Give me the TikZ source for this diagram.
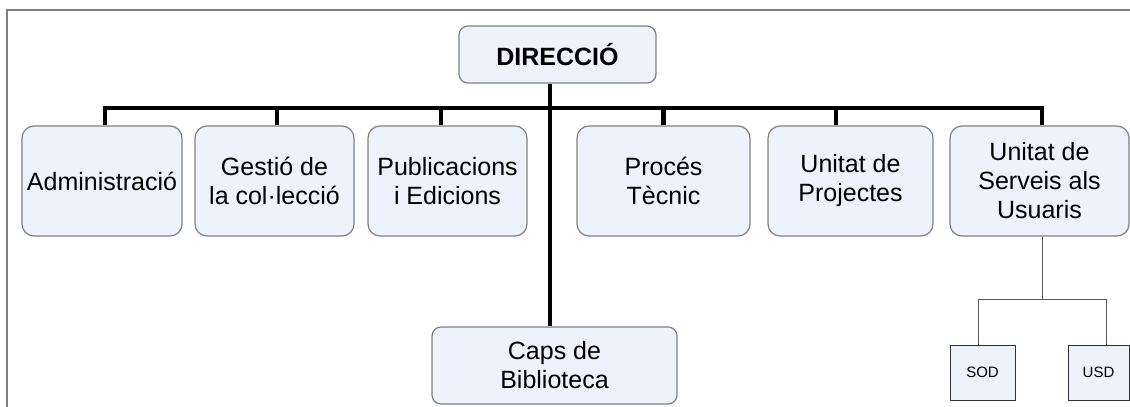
\documentclass[tikz,border=0pt]{standalone}
\usepackage{fontspec}
\setmainfont{Liberation Sans}
\begin{document}
\begin{tikzpicture}[x=1pt,y=-1pt,
  box/.style={draw=black!50, line width=1.2pt, fill=boxfill, rounded corners=12pt, inner sep=0pt, align=center, font=\fontsize{25}{29}\selectfont},
  smallbox/.style={draw=black!80, line width=0.9pt, fill=boxfill, inner sep=0pt, font=\fontsize{15}{18}\selectfont},
  bar/.style={line width=4.5pt, black},
  thin/.style={line width=1pt, black!65},
  frame/.style={line width=1.2pt, black!50}]
\definecolor{boxfill}{RGB}{238,242,253}
\useasboundingbox (0,0) rectangle (1130,407);
\draw[frame] (7,407) -- (7,10) -- (1130,10);
% nodes
\node[box, rounded corners=9pt, minimum width=197pt, minimum height=57pt, font=\fontsize{25}{29}\selectfont\bfseries] (dir) at (557.5,54.5) {DIRECCIÓ};
\node[box, minimum width=160pt, minimum height=110pt] (adm) at (102,181) {Administració};
\node[box, minimum width=159pt, minimum height=110pt] (ges) at (274.5,181) {Gestió de\\la col·lecció};
\node[box, minimum width=159pt, minimum height=110pt] (pub) at (447.5,181) {Publicacions\\i Edicions};
\node[box, minimum width=173pt, minimum height=110pt] (proc) at (663.5,181) {Procés\\Tècnic};
\node[box, minimum width=165pt, minimum height=110pt] (proj) at (850.5,181) {Unitat de\\Projectes};
\node[box, minimum width=179pt, minimum height=110pt] (serv) at (1039.5,181) {Unitat de\\Serveis als\\Usuaris};
\node[box, rounded corners=9pt, minimum width=245pt, minimum height=77pt] (caps) at (554.5,365.5) {Caps de\\Biblioteca};
\node[smallbox, minimum width=65pt, minimum height=55pt] (sod) at (982.5,372.5) {SOD};
\node[smallbox, minimum width=61pt, minimum height=55pt] (usd) at (1098.5,372.5) {USD};
% connectors
\coordinate (spine) at (550,108);
\coordinate (split) at (1042,299);
\draw[bar] (dir.south -| spine) -- (caps.north -| spine);
\draw[bar] ([xshift=3pt]adm.north) -- ([xshift=3pt]adm.north |- spine) -- ([xshift=2.5pt]serv.north |- spine) -- ([xshift=2.5pt]serv.north);
\draw[bar] ([xshift=2.5pt]ges.north) -- ([xshift=2.5pt]ges.north |- spine);
\draw[bar] ([xshift=-6.5pt]pub.north) -- ([xshift=-6.5pt]pub.north |- spine);
\draw[bar] (proc.north) -- (proc.north |- spine);
\draw[bar] ([xshift=-14.5pt]proj.north) -- ([xshift=-14.5pt]proj.north |- spine);
\draw[thin] ([xshift=2.5pt]serv.south) -- (split);
\draw[thin] ([xshift=-4.5pt]sod.north) -- ([xshift=-4.5pt]sod.north |- split) -- ([xshift=7.5pt]usd.north |- split) -- ([xshift=7.5pt]usd.north);
\end{tikzpicture}
\end{document}
